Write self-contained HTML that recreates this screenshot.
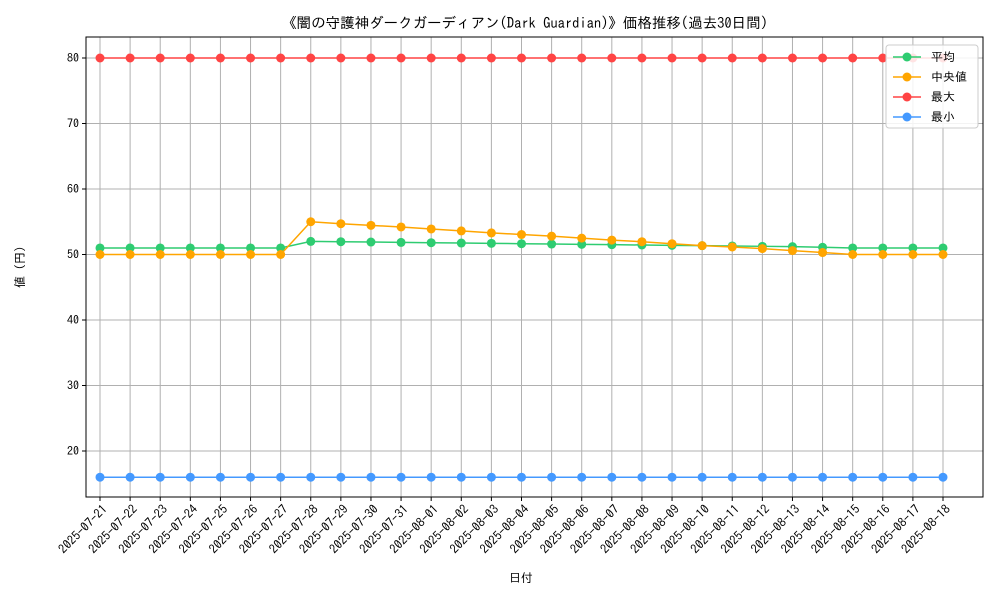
<!DOCTYPE html>
<html><head><meta charset="utf-8"><style>
body{margin:0;background:#fff}
text{font-family:"IPAGothic","Noto Sans CJK JP",sans-serif;fill:#000}
</style></head><body>
<svg id="c" width="1000" height="600"></svg>
<script>
const dates=["2025-07-21","2025-07-22","2025-07-23","2025-07-24","2025-07-25","2025-07-26","2025-07-27","2025-07-28","2025-07-29","2025-07-30","2025-07-31","2025-08-01","2025-08-02","2025-08-03","2025-08-04","2025-08-05","2025-08-06","2025-08-07","2025-08-08","2025-08-09","2025-08-10","2025-08-11","2025-08-12","2025-08-13","2025-08-14","2025-08-15","2025-08-16","2025-08-17","2025-08-18"];
const meanVals=[51,51,51,51,51,51,51,52.0,51.95,51.9,51.85,51.8,51.75,51.7,51.65,51.6,51.55,51.5,51.45,51.4,51.35,51.3,51.25,51.2,51.1,51.0,51,51,51];
const medianVals=[50,50,50,50,50,50,50,55.0,54.7,54.45,54.2,53.9,53.6,53.3,53.05,52.8,52.5,52.2,51.95,51.65,51.35,51.15,50.9,50.6,50.3,50,50,50,50];
const maxVals=[80,80,80,80,80,80,80,80,80,80,80,80,80,80,80,80,80,80,80,80,80,80,80,80,80,80,80,80,80];
const minVals=[16,16,16,16,16,16,16,16,16,16,16,16,16,16,16,16,16,16,16,16,16,16,16,16,16,16,16,16,16];
const yTicks=[20,30,40,50,60,70,80];
const series=[["平均",meanVals,"#2ecc71"],["中央値",medianVals,"#ffa500"],["最大",maxVals,"#ff4444"],["最小",minVals,"#4499ff"]];
const L=86,R=983,T=37,B=497;
const x=i=>100+i*(943-100)/(dates.length-1);
const y=v=>58+(80-v)*6.55;
const s=document.getElementById('c');const NS="http://www.w3.org/2000/svg";
function mk(t,a,p){const e=document.createElementNS(NS,t);for(const k in a)e.setAttribute(k,a[k]);(p||s).appendChild(e);return e;}
dates.forEach((d,i)=>{
 const g=mk('line',{x1:x(i),x2:x(i),y1:T,y2:B,stroke:'#b0b0b0','stroke-width':1});
 
 mk('line',{x1:x(i),x2:x(i),y1:B,y2:B+4,stroke:'#000'});
 const ax=x(i)+8,ay=B+13;
 const t=mk('text',{x:ax,y:ay,'font-size':12.5,'text-anchor':'end',transform:`rotate(-45 ${ax} ${ay})`});
 t.textContent=d;
});
yTicks.forEach(v=>{
 const g=mk('line',{x1:L,x2:R,y1:y(v),y2:y(v),stroke:'#b0b0b0','stroke-width':1});
 
 mk('line',{x1:L-4,x2:L,y1:y(v),y2:y(v),stroke:'#000'});
 const t=mk('text',{x:L-7,y:y(v)+4,'font-size':12,'text-anchor':'end'});
 t.textContent=v;
});
series.forEach(([n,vals,c])=>{
 const p=mk('polyline',{points:vals.map((v,i)=>x(i)+','+y(v)).join(' '),fill:'none',stroke:c,'stroke-width':1.5});
 
 vals.forEach((v,i)=>{const m=mk('circle',{cx:x(i),cy:y(v),r:4.5,fill:c});
  });
});
const fr=mk('rect',{x:L,y:T,width:R-L,height:B-T,fill:'none',stroke:'#000','stroke-width':1});

const lg=mk('g',{});
mk('rect',{x:886,y:45,width:92,height:83,fill:'#fff','fill-opacity':0.85,stroke:'#ccc',rx:3},lg);
series.forEach(([n,vals,c],k)=>{const yy=57+k*20;
 const e=mk('g',{},lg);
 mk('line',{x1:893,x2:921,y1:yy,y2:yy,stroke:c,'stroke-width':1.5},e);
 mk('circle',{cx:907,cy:yy,r:4.5,fill:c},e);
 const t=mk('text',{x:931,y:yy+4,'font-size':12},e);t.textContent=n;});
const ti=mk('text',{x:525,y:28,'font-size':14.5,'text-anchor':'middle'});ti.textContent="《闇の守護神ダークガーディアン(Dark Guardian)》価格推移(過去30日間)";

const xl=mk('text',{x:521,y:582,'font-size':12,'text-anchor':'middle'});xl.textContent="日付";

const yl=mk('text',{x:24,y:267,'font-size':12,'text-anchor':'middle',transform:'rotate(-90 24 267)'});yl.textContent="値 (円)";

</script>
</body></html>
